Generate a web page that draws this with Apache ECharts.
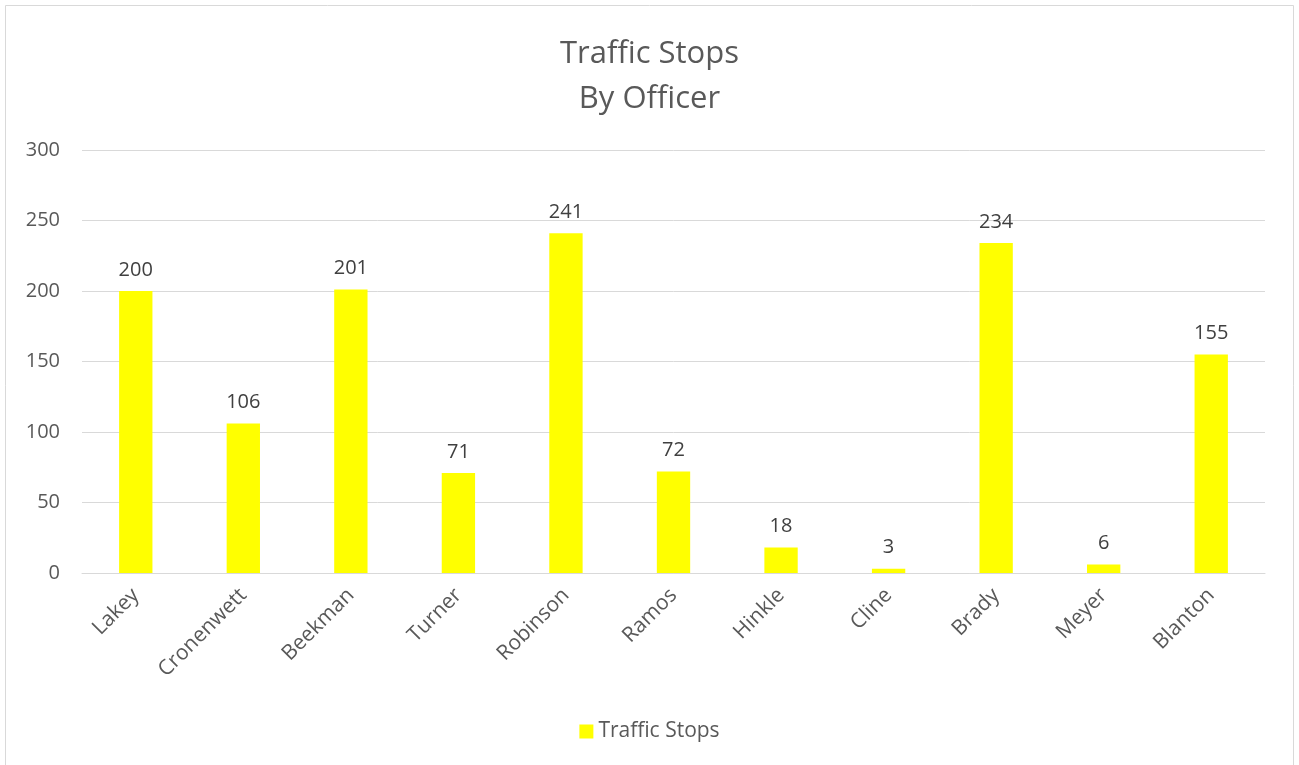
<!DOCTYPE html>
<html>
<head>
<meta charset="utf-8">
<script src="https://cdn.jsdelivr.net/npm/echarts@6/dist/echarts.min.js"></script>
<style>
html,body{margin:0;padding:0;background:#fff;}
#main{width:1299px;height:765px;}
</style>
</head>
<body>
<div id="main"></div>
<script>
const officers = ['Lakey','Cronenwett','Beekman','Turner','Robinson','Ramos','Hinkle','Cline','Brady','Meyer','Blanton'];
const trafficStops = [200,106,201,71,241,72,18,3,234,6,155];
const yTicks = [0,50,100,150,200,250,300];

const chart = echarts.init(document.getElementById('main'), null, {renderer:'canvas'});
chart.setOption({
  animation:false,
  backgroundColor:'#ffffff',
  graphic:[{
    type:'rect', silent:true, z:-10,
    shape:{x:5.5,y:5.5,width:1288,height:800},
    style:{fill:'none',stroke:'#d9d9d9',lineWidth:1}
  }],
  title:{
    text:'Traffic Stops\nBy Officer',
    left:'center', top:27,
    textStyle:{fontFamily:'Liberation Sans Narrow, Open Sans, sans-serif',fontSize:31,fontWeight:'normal',color:'#595959',lineHeight:45}
  },
  legend:{
    bottom:18, left:'center',
    itemWidth:14, itemHeight:14, itemGap:7,
    icon:'rect',
    textStyle:{fontFamily:'Open Sans, sans-serif',fontSize:21,color:'#595959'},
    data:['Traffic Stops']
  },
  grid:{left:82,right:34,top:150,bottom:192,containLabel:false},
  xAxis:{
    type:'category',
    data:officers,
    axisLine:{lineStyle:{color:'#d9d9d9',width:1}},
    axisTick:{show:false},
    axisLabel:{rotate:45,margin:19,fontFamily:'Open Sans, sans-serif',fontSize:21,color:'#595959',interval:0}
  },
  yAxis:{
    type:'value',
    min:yTicks[0], max:yTicks[yTicks.length-1], interval:50,
    axisLine:{show:false},
    axisTick:{show:false},
    splitLine:{lineStyle:{color:'#d9d9d9',width:1}},
    axisLabel:{margin:22,fontFamily:'Open Sans, sans-serif',fontSize:20,color:'#595959'}
  },
  series:[{
    name:'Traffic Stops',
    type:'bar',
    data:trafficStops,
    barWidth:'31%',
    itemStyle:{color:'#ffff00'},
    label:{show:true,position:'top',distance:11,fontFamily:'Open Sans, sans-serif',fontSize:20,color:'#404040'}
  }]
});
</script>
</body>
</html>
